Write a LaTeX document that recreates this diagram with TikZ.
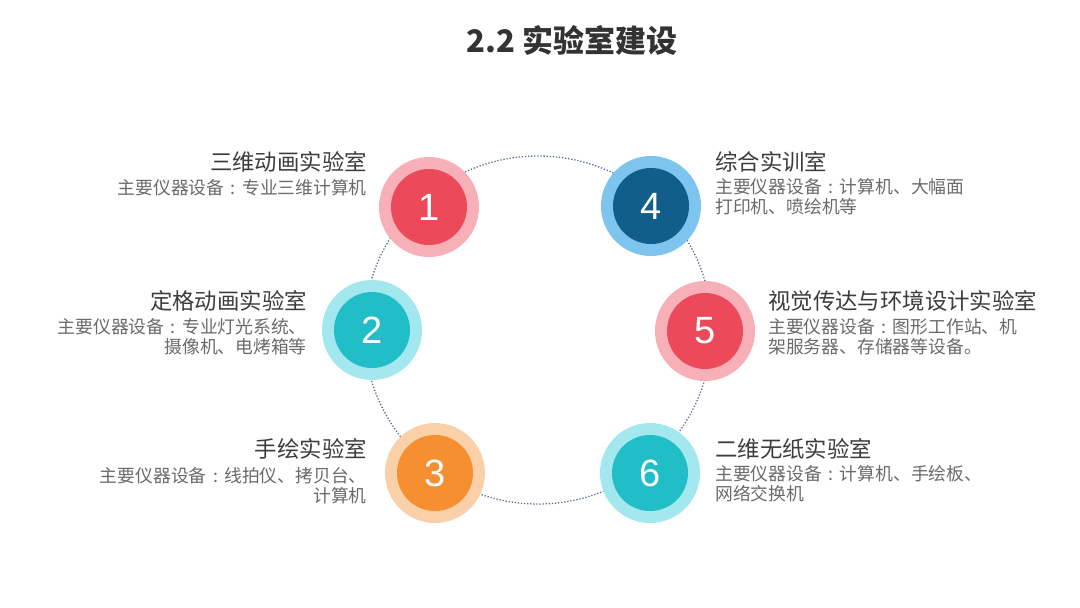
\documentclass[tikz,border=0pt]{standalone}
\usepackage{fontspec}
\setmainfont{Noto Sans CJK SC}
\newfontfamily\numfont{Liberation Sans}
\usepackage{xcolor}
\usetikzlibrary{positioning}

\definecolor{redlt}{HTML}{F7B0B8}
\definecolor{reddk}{HTML}{EC4A5B}
\definecolor{tealt}{HTML}{A2E8EE}
\definecolor{tealdk}{HTML}{21BEC8}
\definecolor{orglt}{HTML}{FAD0A9}
\definecolor{orgdk}{HTML}{F58F30}
\definecolor{bluelt}{HTML}{7DC4EE}
\definecolor{bluedk}{HTML}{115E8A}
\definecolor{ringblue}{HTML}{5A6F92}
\definecolor{titlegray}{HTML}{333333}
\definecolor{headgray}{HTML}{3C3C3C}
\definecolor{descgray}{HTML}{6A6A6A}

% centred full-width colon
\newcommand{\fwcolon}{\makebox[1em]{:}}

\begin{document}
\begin{tikzpicture}[
    x=1pt, y=-1pt,
    ring/.style={draw=ringblue, line width=1.3pt, dash pattern=on 1.3pt off 1.8pt},
    halo/.style={circle, minimum size=100pt, inner sep=0pt},
    disc/.style={circle, minimum size=76pt, inner sep=0pt, text=white,
                 font=\numfont\fontsize{38}{38}\selectfont},
    head/.style={inner sep=0pt, text=headgray, font=\fontsize{22.4}{26}\selectfont},
    desc/.style={inner sep=0pt, text=descgray, font=\fontsize{17.8}{20}\selectfont},
    maintitle/.style={inner sep=0pt, text=titlegray, font=\bfseries\fontsize{31}{36}\selectfont}
]
\useasboundingbox (0,0) rectangle (1080,608);

\node[maintitle] (title) at (572,40) {2.2 实验室建设};

% dotted ring behind the badges
\draw[ring] (538,330) circle[radius=174pt];

% numbered badges
\foreach \n/\px/\py/\lt/\dk in {1/429/207/redlt/reddk, 2/372/330/tealt/tealdk,
    3/435/473/orglt/orgdk, 4/651/206/bluelt/bluedk,
    5/705/331/redlt/reddk, 6/650/473/tealt/tealdk} {
    \node[halo, fill=\lt] (h\n) at (\px,\py) {};
    \node[disc, fill=\dk] (d\n) at (h\n) {\n};
}

% left column
\node[head, anchor=east] (t1) at (367,162) {三维动画实验室};
\node[desc, align=right, below left=7pt and 0pt of t1.south east] (s1)
    {主要仪器设备\fwcolon 专业三维计算机};

\node[head, anchor=east] (t2) at (307,301) {定格动画实验室};
\node[desc, align=right, below left=7pt and 0pt of t2.south east] (s2)
    {主要仪器设备\fwcolon 专业灯光系统、\\摄像机、电烤箱等};

\node[head, anchor=east] (t3) at (367,449) {手绘实验室};
\node[desc, align=right, below left=8pt and 0pt of t3.south east] (s3)
    {主要仪器设备\fwcolon 线拍仪、拷贝台、\\计算机};

% right column
\node[head, anchor=west] (t4) at (715,162) {综合实训室};
\node[desc, align=left, below right=6pt and 0pt of t4.south west] (s4)
    {主要仪器设备\fwcolon 计算机、大幅面\\打印机、喷绘机等};

\node[head, anchor=west] (t5) at (768,301) {视觉传达与环境设计实验室};
\node[desc, align=left, below right=7pt and 0pt of t5.south west] (s5)
    {主要仪器设备\fwcolon 图形工作站、机\\架服务器、存储器等设备。};

\node[head, anchor=west] (t6) at (715,449) {二维无纸实验室};
\node[desc, align=left, below right=6pt and 0pt of t6.south west] (s6)
    {主要仪器设备\fwcolon 计算机、手绘板、\\网络交换机};
\end{tikzpicture}
\end{document}
